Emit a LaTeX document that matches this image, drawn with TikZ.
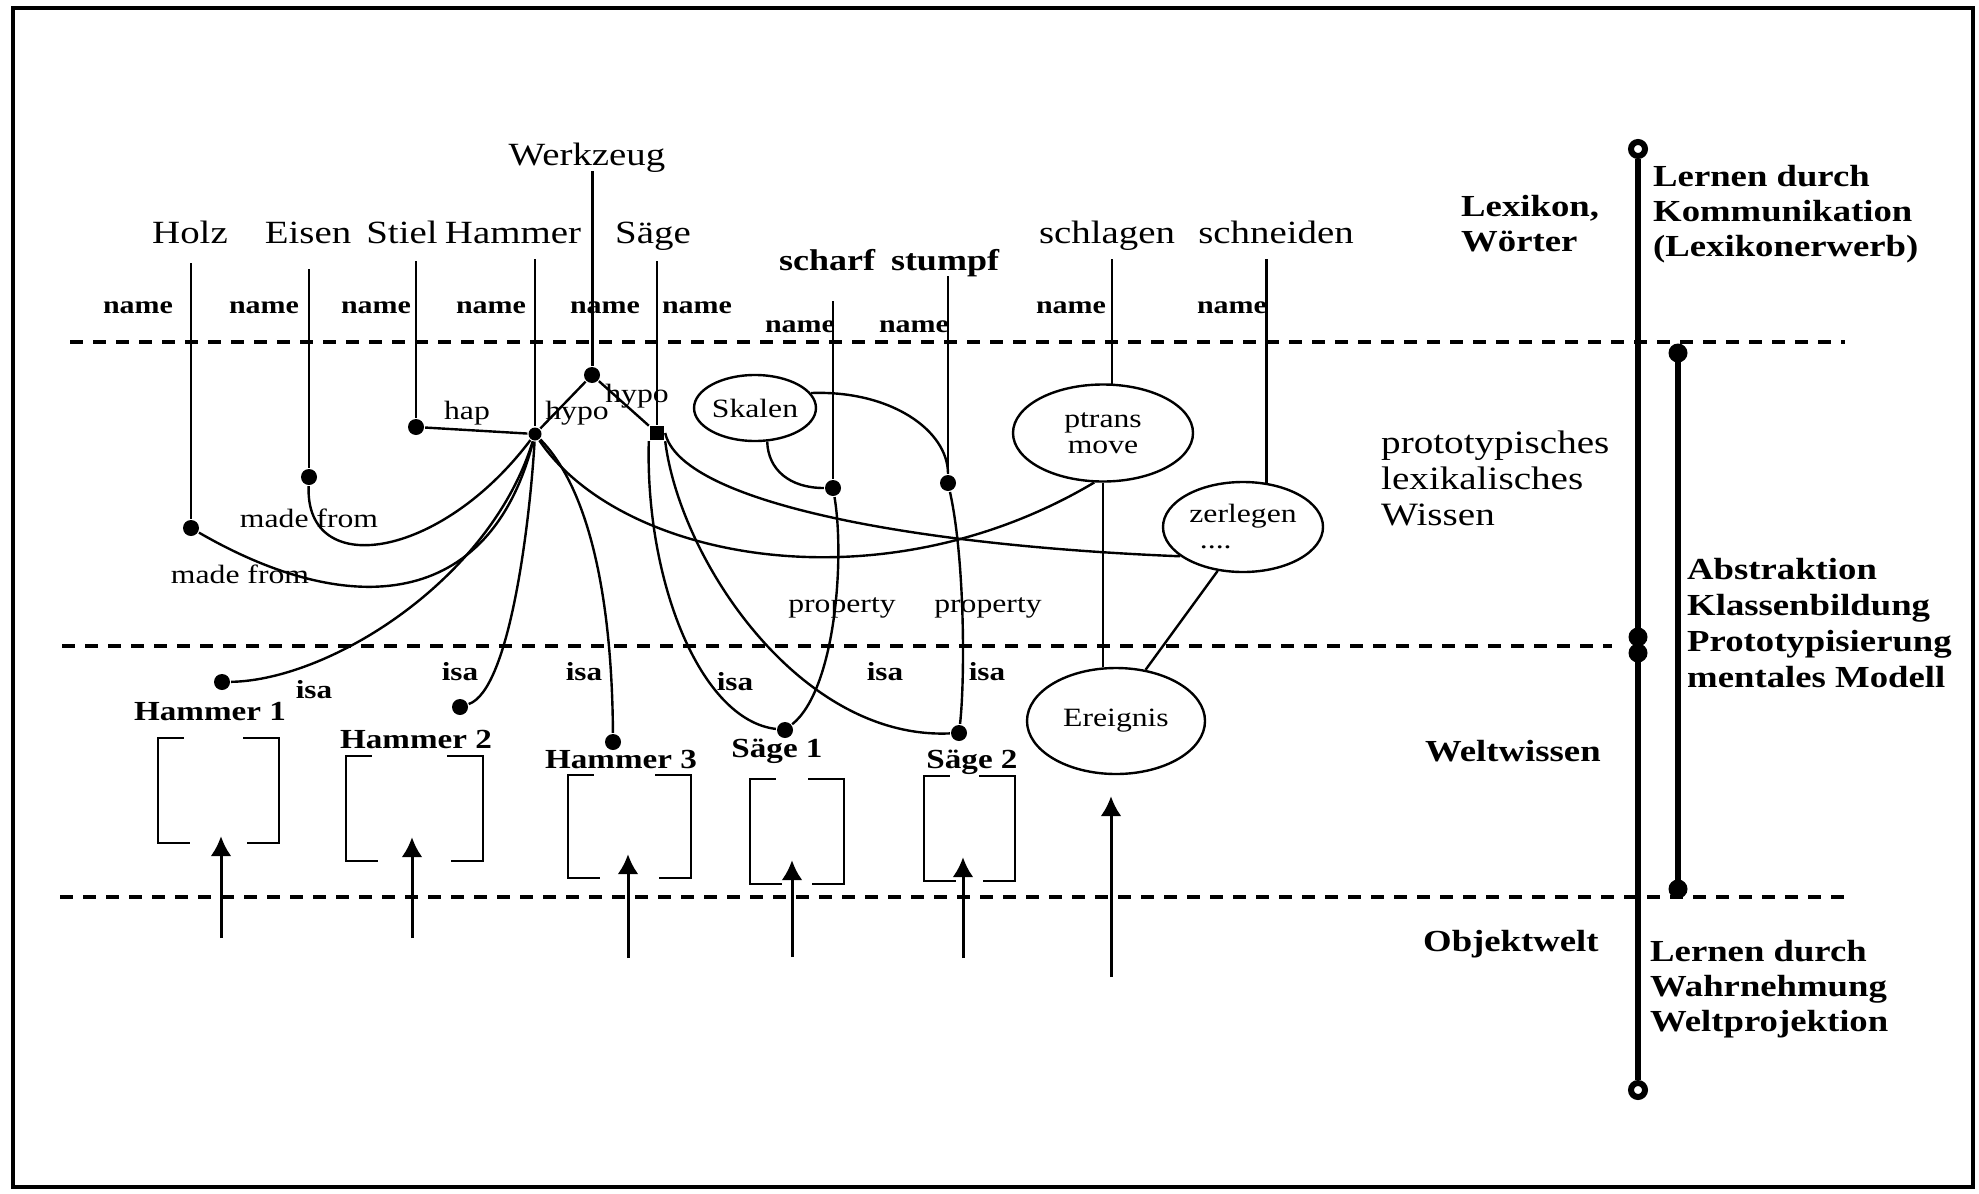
\documentclass[tikz,border=0pt]{standalone}
\usepackage{fontspec}
\setmainfont{Liberation Serif}[FakeStretch=1.2]
\usetikzlibrary{shapes.geometric, arrows.meta}
\tikzset{>={Latex[length=10pt,width=10.5pt]}}
\tikzset{
  word/.style={font=\fontsize{16.2}{17}\selectfont, inner sep=0pt, text depth=0pt, anchor=base},
  wordb/.style={word, font=\fontsize{15}{15}\selectfont\bfseries},
  namelbl/.style={font=\fontsize{12.5}{13}\selectfont\bfseries, inner sep=0pt, anchor=base},
  rel/.style={font=\fontsize{13.2}{14}\selectfont, inner sep=0pt, anchor=base},
  isalbl/.style={font=\fontsize{13}{14}\selectfont\bfseries, inner sep=0pt, anchor=base},
  inst/.style={font=\fontsize{13.8}{14}\selectfont\bfseries, inner sep=0pt, anchor=base},
  kdot/.style={circle, fill, inner sep=0pt, minimum size=8pt},
  sqdot/.style={rectangle, fill, inner sep=0pt, minimum size=7pt},
  oval/.style={ellipse, draw, inner sep=0pt, font=\fontsize{13.2}{13}\selectfont},
  objbox/.style={inner sep=0pt},
  bracket/.style={line width=1.2pt},
  uparr/.style={->, line width=1.5pt, shorten >=-12pt},
  divline/.style={line width=1.8pt, dash pattern=on 6.5pt off 5pt},
  side/.style={font=\fontsize{15.3}{17.5}\selectfont\bfseries, inner sep=0pt, align=left, anchor=north west},
  thickbar/.style={line width=3pt},
  ring/.style={circle, draw, fill=white, line width=3pt, inner sep=0pt, minimum size=7pt},
  bardot/.style={circle, fill, inner sep=0pt, minimum size=9.5pt}
}

\begin{document}
\begin{tikzpicture}[x=0.5pt, y=-0.5pt, line width=1.2pt]
\useasboundingbox (0,0) rectangle (1979,1193);
\draw[line width=2pt] (13,8) rectangle (1973,1187);

% layers
\draw[divline] (70,342) -- (1845,342);
\draw[divline] (62,646) -- (1612,646);
\draw[divline] (60,897) -- (1845,897);

% words
\node[word] (werkzeug) at (587,165) {Werkzeug};
\node[word] (holz) at (190,243) {Holz};
\node[word] (eisen) at (308,243) {Eisen};
\node[word] (stiel) at (402,243) {Stiel};
\node[word] (hammer) at (513,243) {Hammer};
\node[word] (saege) at (653,243) {Säge};
\node[wordb] (scharf) at (827,270) {scharf};
\node[wordb] (stumpf) at (945,270) {stumpf};
\node[word] (schlagen) at (1107,243) {schlagen};
\node[word] (schneiden) at (1276,243) {schneiden};

\node[namelbl] (nm1) at (138,313) {name};
\node[namelbl] (nm2) at (264,313) {name};
\node[namelbl] (nm3) at (376,313) {name};
\node[namelbl] (nm4) at (491,313) {name};
\node[namelbl] (nm5) at (605,313) {name};
\node[namelbl] (nm6) at (697,313) {name};
\node[namelbl] (nm7) at (800,332) {name};
\node[namelbl] (nm8) at (914,332) {name};
\node[namelbl] (nm9) at (1071,313) {name};
\node[namelbl] (nm10) at (1232,313) {name};

% concepts
\node[kdot] (holzdot) at (191,528) {};
\node[kdot] (eisendot) at (309,477) {};
\node[kdot] (stieldot) at (416,427) {};
\node[kdot, minimum size=6.5pt] (hammerpt) at (535,434) {};
\node[kdot] (werkdot) at (592,375) {};
\node[sqdot] (saegesq) at (657,433) {};
\node[kdot] (scharfdot) at (833,488) {};
\node[kdot] (stumpfdot) at (948,483) {};
\node[oval, minimum width=58pt, minimum height=33pt] (skalen) at (755,408) {Skalen};
\node[oval, minimum width=90pt, minimum height=48.5pt, align=center] (ptrans) at (1103,433) {ptrans\\move};
\node[oval, minimum width=80pt, minimum height=45pt, align=left] (zerlegen) at (1243,527) {zerlegen\\\hspace*{0.4em}....};

\draw[shorten <=9.5pt] (holz.south -| holzdot) -- (holzdot);
\draw[shorten <=12.5pt] (eisen.south -| eisendot) -- (eisendot);
\draw[shorten <=8.5pt] (stiel.south -| stieldot) -- (stieldot);
\draw[shorten <=7.5pt] (hammer.south -| hammerpt) -- (hammerpt);
\draw[shorten <=8.5pt] (saege.south -| saegesq) -- (saegesq);
\draw[line width=1.5pt, shorten <=2.5pt] (werkzeug.south -| werkdot) -- (werkdot);
\draw[shorten <=15pt] (scharf.south -| scharfdot) -- (scharfdot);
\draw[shorten <=2.5pt] (stumpf.south -| stumpfdot) -- (stumpfdot);
\draw[shorten <=7.5pt] (schlagen.south -| ptrans.80) -- (ptrans.80);
\draw[shorten <=7.5pt] (schneiden.south -| zerlegen.62) -- (zerlegen.62);

\draw (holzdot) .. controls (350,620) and (490,610) .. (hammerpt);
\draw (eisendot) .. controls (305,580) and (440,560) .. (hammerpt);
\draw (stieldot) -- (hammerpt);
\draw (hammerpt) -- (werkdot);
\draw (werkdot) -- (saegesq);
\draw (hammerpt) .. controls (620,560) and (880,610) .. (ptrans.260);
\draw (saegesq.east) .. controls (680,500) and (900,545) .. (zerlegen.205);
\draw (skalen.290) .. controls (768,470) and (790,488) .. (scharfdot);
\draw (skalen.15) .. controls (890,390) and (948,430) .. (stumpfdot);

\node[rel] (hap) at (467,419) {hap};
\node[rel] (hypo1) at (577,419) {hypo};
\node[rel] (hypo2) at (637,402) {hypo};
\node[rel] (made1) at (309,527) {made from};
\node[rel] (made2) at (240,583) {made from};
\node[rel] (prop1) at (842,612) {property};
\node[rel] (prop2) at (988,612) {property};

% instances
\node[kdot] (h1dot) at (222,682) {};
\node[kdot] (h2dot) at (460,707) {};
\node[kdot] (h3dot) at (613,742) {};
\node[kdot] (s1dot) at (785,730) {};
\node[kdot] (s2dot) at (959,733) {};
\node[oval, minimum width=89pt, minimum height=53pt] (ereignis) at (1116,721) {Ereignis};

\draw (hammerpt) .. controls (490,580) and (330,680) .. (h1dot);
\draw (hammerpt) .. controls (530,520) and (510,690) .. (h2dot);
\draw (hammerpt) .. controls (590,490) and (612,600) .. (h3dot);
\draw (saegesq.south west) .. controls (645,580) and (700,720) .. (s1dot);
\draw (saegesq.south east) .. controls (680,560) and (800,740) .. (s2dot);
\draw (scharfdot) .. controls (845,560) and (835,690) .. (s1dot);
\draw (stumpfdot) .. controls (965,560) and (965,680) .. (s2dot);
\draw (ptrans.south) -- (ptrans.south |- ereignis.north);
\draw (zerlegen.240) -- (ereignis.60);

\node[isalbl] (isa1) at (314,698) {isa};
\node[isalbl] (isa2) at (460,680) {isa};
\node[isalbl] (isa3) at (584,680) {isa};
\node[isalbl] (isa4) at (735,690) {isa};
\node[isalbl] (isa5) at (885,680) {isa};
\node[isalbl] (isa6) at (987,680) {isa};

\node[inst] (hname1) at (210,720) {Hammer 1};
\node[inst] (hname2) at (416,748) {Hammer 2};
\node[inst] (hname3) at (621,768) {Hammer 3};
\node[inst] (sname1) at (777,757) {Säge 1};
\node[inst] (sname2) at (972,768) {Säge 2};

% objects
\node[objbox, minimum width=59.5pt, minimum height=51.5pt] (hbox1) at (218.5,790.5) {};
\node[objbox, minimum width=67.5pt, minimum height=51.5pt] (hbox2) at (414.5,808.5) {};
\node[objbox, minimum width=60.5pt, minimum height=50.5pt] (hbox3) at (629.5,826.5) {};
\node[objbox, minimum width=46pt, minimum height=51.5pt] (sbox1) at (797,831.5) {};
\node[objbox, minimum width=44.5pt, minimum height=51.5pt] (sbox2) at (969.5,828.5) {};
\draw[bracket] ([xshift=13pt]hbox1.north west) -| (hbox1.south west) -- ++(16pt,0);
\draw[bracket] ([xshift=-18pt]hbox1.north east) -| (hbox1.south east) -- ++(-16pt,0);
\draw[bracket] ([xshift=13pt]hbox2.north west) -| (hbox2.south west) -- ++(16pt,0);
\draw[bracket] ([xshift=-18pt]hbox2.north east) -| (hbox2.south east) -- ++(-16pt,0);
\draw[bracket] ([xshift=13pt]hbox3.north west) -| (hbox3.south west) -- ++(16pt,0);
\draw[bracket] ([xshift=-18pt]hbox3.north east) -| (hbox3.south east) -- ++(-16pt,0);
\draw[bracket] ([xshift=13pt]sbox1.north west) -| (sbox1.south west) -- ++(16pt,0);
\draw[bracket] ([xshift=-18pt]sbox1.north east) -| (sbox1.south east) -- ++(-16pt,0);
\draw[bracket] ([xshift=13pt]sbox2.north west) -| (sbox2.south west) -- ++(16pt,0);
\draw[bracket] ([xshift=-18pt]sbox2.north east) -| (sbox2.south east) -- ++(-16pt,0);

\coordinate (a1) at (221,938);
\coordinate (a2) at (412,938);
\coordinate (a3) at (628,958);
\coordinate (a4) at (792,957);
\coordinate (a5) at (963,958);
\coordinate (a6) at (1111,977);
\draw[uparr, shorten >=-3.5pt] (a1) -- (a1 |- hbox1.south);
\draw[uparr] (a2) -- (a2 |- hbox2.south);
\draw[uparr] (a3) -- (a3 |- hbox3.south);
\draw[uparr] (a4) -- (a4 |- sbox1.south);
\draw[uparr] (a5) -- (a5 |- sbox2.south);
\draw[uparr, shorten >=10.5pt] (a6) -- (a6 |- ereignis.south);

% levels and learning
\node[side] (lexikon) at (1460,194) {Lexikon,\\Wörter};
\node[side] (komm) at (1652,164) {Lernen durch\\Kommunikation\\(Lexikonerwerb)};
\node[side, font=\fontsize{16.3}{18}\selectfont] (proto) at (1380,430) {prototypisches\\lexikalisches\\Wissen};
\node[side, font=\fontsize{15.3}{18}\selectfont\bfseries] (abstr) at (1686,557) {Abstraktion\\Klassenbildung\\Prototypisierung\\mentales Modell};
\node[side, anchor=base west] (welt) at (1424,761) {Weltwissen};
\node[side, anchor=base west] (objekt) at (1422,951) {Objektwelt};
\node[side] (wahrn) at (1649,939) {Lernen durch\\Wahrnehmung\\Weltprojektion};

\node[ring] (ltop) at (1638,149) {};
\node[ring] (lbot) at (1638,1090) {};
\draw[thickbar] (ltop) -- (lbot);
\node[bardot] (lmid1) at (1638,637) {};
\node[bardot] (lmid2) at (1638,653) {};
\node[bardot] (rtop) at (1678,353) {};
\node[bardot] (rbot) at (1678,889) {};
\draw[thickbar] (rtop.center) -- (rbot.center);
\end{tikzpicture}
\end{document}
